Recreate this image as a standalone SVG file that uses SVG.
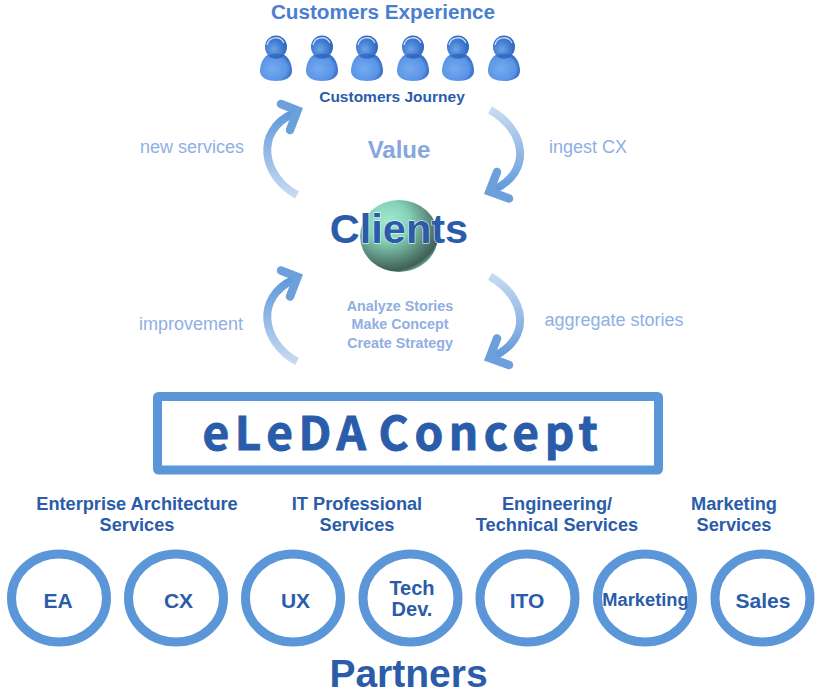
<svg xmlns="http://www.w3.org/2000/svg" xmlns:xlink="http://www.w3.org/1999/xlink" width="820" height="695" viewBox="0 0 820 695">
<style>
text{font-family:"Liberation Sans",Arial,sans-serif;font-weight:bold;text-anchor:middle;fill:#2a5caa}
.lbl{font-weight:normal;fill:#8eb0e3;font-size:18px}
.h{font-size:18.200px}
.pal{fill:#8faee2;font-size:14.300px}
.ring{fill:#fff;stroke:#5b96d8;stroke-width:9}
.cn{font-size:21px}
.arc{fill:none;stroke-width:8}
.head{fill:none;stroke:#6ba0dd;stroke-width:8.500;stroke-linecap:round;stroke-linejoin:miter;stroke-miterlimit:6}
</style>
<defs>
<linearGradient id="gL" gradientUnits="userSpaceOnUse" x1="297" y1="195" x2="300" y2="112">
<stop offset="0" stop-color="#c6d9f1"/><stop offset="1" stop-color="#5f98da"/>
</linearGradient>
<linearGradient id="gR" gradientUnits="userSpaceOnUse" x1="490" y1="110" x2="486" y2="192">
<stop offset="0" stop-color="#c6d9f1"/><stop offset="1" stop-color="#5f98da"/>
</linearGradient>
<radialGradient id="gHead" cx="0.4" cy="0.6" r="0.65">
<stop offset="0" stop-color="#6ea2e6"/><stop offset="0.6" stop-color="#3f7bd0"/><stop offset="1" stop-color="#2a62b8"/>
</radialGradient>
<radialGradient id="gBody" cx="0.4" cy="0.55" r="0.65">
<stop offset="0" stop-color="#74aaf0"/><stop offset="0.7" stop-color="#5a94e6"/><stop offset="1" stop-color="#2a5fb8"/>
</radialGradient>
<radialGradient id="gSphere" cx="0.36" cy="0.3" r="0.78">
<stop offset="0" stop-color="#a2ead0"/><stop offset="0.35" stop-color="#86d2b8"/><stop offset="0.65" stop-color="#5e8f80"/><stop offset="0.88" stop-color="#3f5f55"/><stop offset="1" stop-color="#8ad8bc"/>
</radialGradient>
<g id="person">
<path d="M-16 24C-16 14 -10 7 -5 7L5 7C10 7 16 14 16 24C16 31 8 34 0 34C-8 34 -16 31 -16 24Z" fill="url(#gBody)"/>
<ellipse cx="0" cy="0" rx="11" ry="11.500" fill="url(#gHead)"/>
<path d="M-9 -2A9 9 0 0 1 8 -4" fill="none" stroke="#c4dcf8" stroke-width="1.300"/>
<ellipse cx="0" cy="9" rx="7" ry="2.500" fill="#2a5fb8" opacity="0.600"/>
</g>
<g id="arrowL">
<path class="arc" stroke="url(#gL)" d="M297 195C262 176 254 131 294 113"/>
<path class="head" d="M281 104L297.500 110.500L290 130"/>
</g>
<g id="arrowR">
<path class="arc" stroke="url(#gR)" d="M490 110C526 130 533 172 493 190"/>
<path class="head" d="M497 172L489.500 191.500L509 198.500"/>
</g>
</defs>
<rect width="820" height="695" fill="#fff"/>
<g id="connectors">
<use xlink:href="#arrowL" href="#arrowL"/>
<use xlink:href="#arrowR" href="#arrowR"/>
<use xlink:href="#arrowL" href="#arrowL" y="166.500"/>
<use xlink:href="#arrowR" href="#arrowR" y="166.500"/>
</g>
<g id="customers-experience"><text x="383" y="18.500" font-size="20.700" style="fill:#4a7fd0">Customers Experience</text></g>
<g id="customers">
<use xlink:href="#person" href="#person" x="276" y="47"/>
<use xlink:href="#person" href="#person" x="322" y="47"/>
<use xlink:href="#person" href="#person" x="367" y="47"/>
<use xlink:href="#person" href="#person" x="413" y="47"/>
<use xlink:href="#person" href="#person" x="458" y="47"/>
<use xlink:href="#person" href="#person" x="504" y="47"/>
</g>
<g id="customers-journey"><text x="392" y="102" font-size="15.500">Customers Journey</text></g>
<g id="label-new-services"><text class="lbl" x="192" y="153">new services</text></g>
<g id="label-ingest"><text class="lbl" x="588" y="153">ingest CX</text></g>
<g id="label-value"><text x="399" y="158" font-size="24" style="fill:#86a6de">Value</text></g>
<g id="clients">
<ellipse cx="399" cy="236" rx="39" ry="36" fill="url(#gSphere)"/>
<text x="399" y="243" font-size="41.500" style="stroke:#fff;stroke-width:1;paint-order:stroke">Clients</text>
</g>
<g id="label-improvement"><text class="lbl" x="191" y="330">improvement</text></g>
<g id="label-aggregate"><text class="lbl" x="614" y="326">aggregate stories</text></g>
<g id="label-analyze">
<text class="pal" x="400" y="311">Analyze Stories</text>
<text class="pal" x="400" y="329">Make Concept</text>
<text class="pal" x="400" y="348">Create Strategy</text>
</g>
<g id="concept">
<rect x="157.500" y="396.500" width="501" height="73.500" rx="1" fill="#fff" stroke="#5b96d8" stroke-width="9"/>
<text x="403" y="450" font-size="46" letter-spacing="5.600" word-spacing="-9" style="font-family:'Noto Sans CJK SC','Noto Sans',sans-serif;stroke:#2a5caa;stroke-width:0.900">eLeDA Concept</text>
</g>
<g id="group-ea"><text class="h" x="137" y="510">Enterprise Architecture</text><text class="h" x="137" y="531">Services</text></g>
<g id="group-it"><text class="h" x="357" y="510">IT Professional</text><text class="h" x="357" y="531">Services</text></g>
<g id="group-eng"><text class="h" x="557" y="510">Engineering/</text><text class="h" x="557" y="531">Technical Services</text></g>
<g id="group-mkt"><text class="h" x="734" y="510">Marketing</text><text class="h" x="734" y="531">Services</text></g>
<g id="node-ea"><ellipse class="ring" cx="59" cy="598" rx="47.500" ry="44"/><text class="cn" x="58" y="608">EA</text></g>
<g id="node-cx"><ellipse class="ring" cx="176" cy="598" rx="47.500" ry="44"/><text class="cn" x="178.500" y="608">CX</text></g>
<g id="node-ux"><ellipse class="ring" cx="293" cy="598" rx="47.500" ry="44"/><text class="cn" x="295.500" y="608">UX</text></g>
<g id="node-tech"><ellipse class="ring" cx="410.500" cy="598" rx="47.500" ry="44"/><text x="412" y="595" font-size="20">Tech</text><text x="412" y="615.500" font-size="20">Dev.</text></g>
<g id="node-ito"><ellipse class="ring" cx="527.500" cy="598" rx="47.500" ry="44"/><text class="cn" x="527" y="608">ITO</text></g>
<g id="node-marketing"><ellipse class="ring" cx="645" cy="598" rx="47.500" ry="44"/><text x="645.500" y="606" font-size="18.300">Marketing</text></g>
<g id="node-sales"><ellipse class="ring" cx="762.500" cy="598" rx="47.500" ry="44"/><text class="cn" x="763" y="608">Sales</text></g>
<g id="partners"><text x="408.500" y="687" font-size="39">Partners</text></g>
</svg>
